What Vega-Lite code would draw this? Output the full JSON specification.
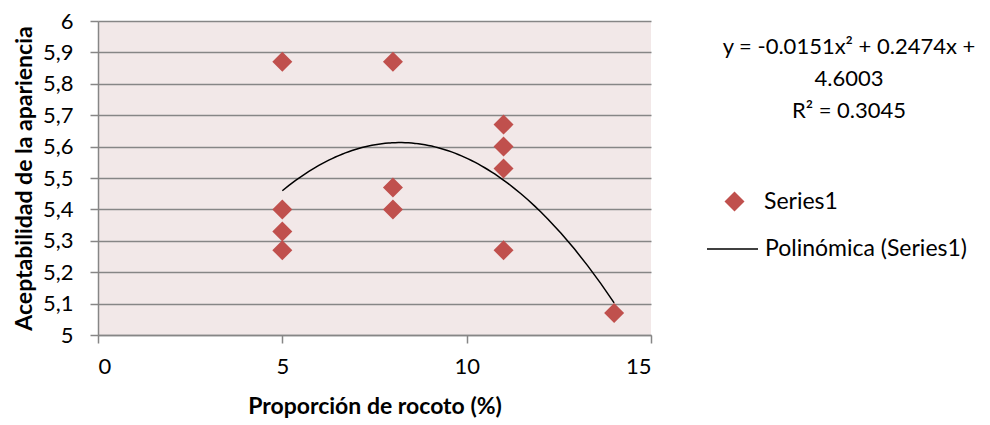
{
  "$schema": "https://vega.github.io/schema/vega-lite/v6.json",
  "width": 553,
  "height": 314,
  "padding": {"left": 13, "top": 10, "right": 5, "bottom": 5},
  "background": "white",
  "config": {
    "view": {"fill": "#F2E8E8", "stroke": null},
    "font": "Lato"
  },
  "resolve": {"scale": {"color": "independent"}, "legend": {"color": "independent"}},
  "data": {
    "values": [
      {"x": 5, "y": 5.87},
      {"x": 5, "y": 5.40},
      {"x": 5, "y": 5.33},
      {"x": 5, "y": 5.27},
      {"x": 8, "y": 5.87},
      {"x": 8, "y": 5.47},
      {"x": 8, "y": 5.40},
      {"x": 11, "y": 5.67},
      {"x": 11, "y": 5.60},
      {"x": 11, "y": 5.53},
      {"x": 11, "y": 5.27},
      {"x": 14, "y": 5.07}
    ]
  },
  "encoding": {
    "x": {
      "field": "x",
      "type": "quantitative",
      "scale": {"domain": [0, 15], "nice": false, "zero": false},
      "axis": {
        "values": [0, 5, 10, 15],
        "grid": false,
        "title": "Proporción de rocoto (%)",
        "titleFont": "Lato",
        "titleFontSize": 23,
        "titleFontWeight": "bold",
        "titleColor": "black",
        "titlePadding": 18,
        "labelFont": "Lato",
        "labelFontSize": 22,
        "labelColor": "black",
        "labelPadding": 13,
        "tickSize": 8,
        "tickWidth": 1.5,
        "tickColor": "#868686",
        "domainColor": "#868686",
        "domainWidth": 1.5
      }
    },
    "y": {
      "field": "y",
      "type": "quantitative",
      "scale": {"domain": [5, 6], "nice": false, "zero": false},
      "axis": {
        "values": [5, 5.1, 5.2, 5.3, 5.4, 5.5, 5.6, 5.7, 5.8, 5.9, 6],
        "labelExpr": "replace(format(datum.value, '~g'), '.', ',')",
        "grid": true,
        "gridColor": "#868686",
        "gridWidth": 1.5,
        "title": "Aceptabilidad de la apariencia",
        "titleFont": "Lato",
        "titleFontSize": 23,
        "titleFontWeight": "bold",
        "titleColor": "black",
        "titlePadding": 6,
        "labelFont": "Lato",
        "labelFontSize": 22,
        "labelColor": "black",
        "labelPadding": 17,
        "tickSize": 8,
        "tickWidth": 1.5,
        "tickColor": "#868686",
        "domainColor": "#868686",
        "domainWidth": 1.5
      }
    }
  },
  "layer": [
    {
      "mark": {"type": "point", "shape": "diamond", "filled": true, "size": 400, "opacity": 1},
      "encoding": {
        "color": {
          "datum": "Series1",
          "type": "nominal",
          "scale": {"domain": ["Series1"], "range": ["#C0504D"]},
          "legend": {
            "orient": "right",
            "offset": 55,
            "padding": 16,
            "title": ["y = -0.0151x² + 0.2474x +", "4.6003", "R² = 0.3045"],
            "titleFont": "Lato",
            "titleFontSize": 22,
            "titleFontWeight": "normal",
            "titleColor": "black",
            "titleLineHeight": 32,
            "titleAnchor": "start",
            "titleAlign": "center",
            "titleLimit": 500,
            "titlePadding": 67,
            "labelFont": "Lato",
            "labelFontSize": 23,
            "labelColor": "black",
            "labelLimit": 500,
            "symbolType": "diamond",
            "symbolSize": 400,
            "symbolOffset": -126,
            "labelOffset": 18
          }
        }
      }
    },
    {
      "transform": [
        {"regression": "y", "on": "x", "method": "poly", "order": 2, "extent": [5, 14]}
      ],
      "mark": {"type": "line", "strokeWidth": 1.5},
      "encoding": {
        "color": {
          "datum": "Polinómica (Series1)",
          "type": "nominal",
          "scale": {"domain": ["Polinómica (Series1)"], "range": ["black"]},
          "legend": {
            "orient": "right",
            "offset": 55,
            "padding": 0,
            "title": null,
            "labelFont": "Lato",
            "labelFontSize": 23,
            "labelColor": "black",
            "labelLimit": 500,
            "symbolType": "stroke",
            "symbolSize": 2601,
            "symbolStrokeWidth": 1.5,
            "symbolStrokeColor": "black",
            "clipHeight": 22,
            "labelOffset": 6
          }
        }
      }
    }
  ]
}
